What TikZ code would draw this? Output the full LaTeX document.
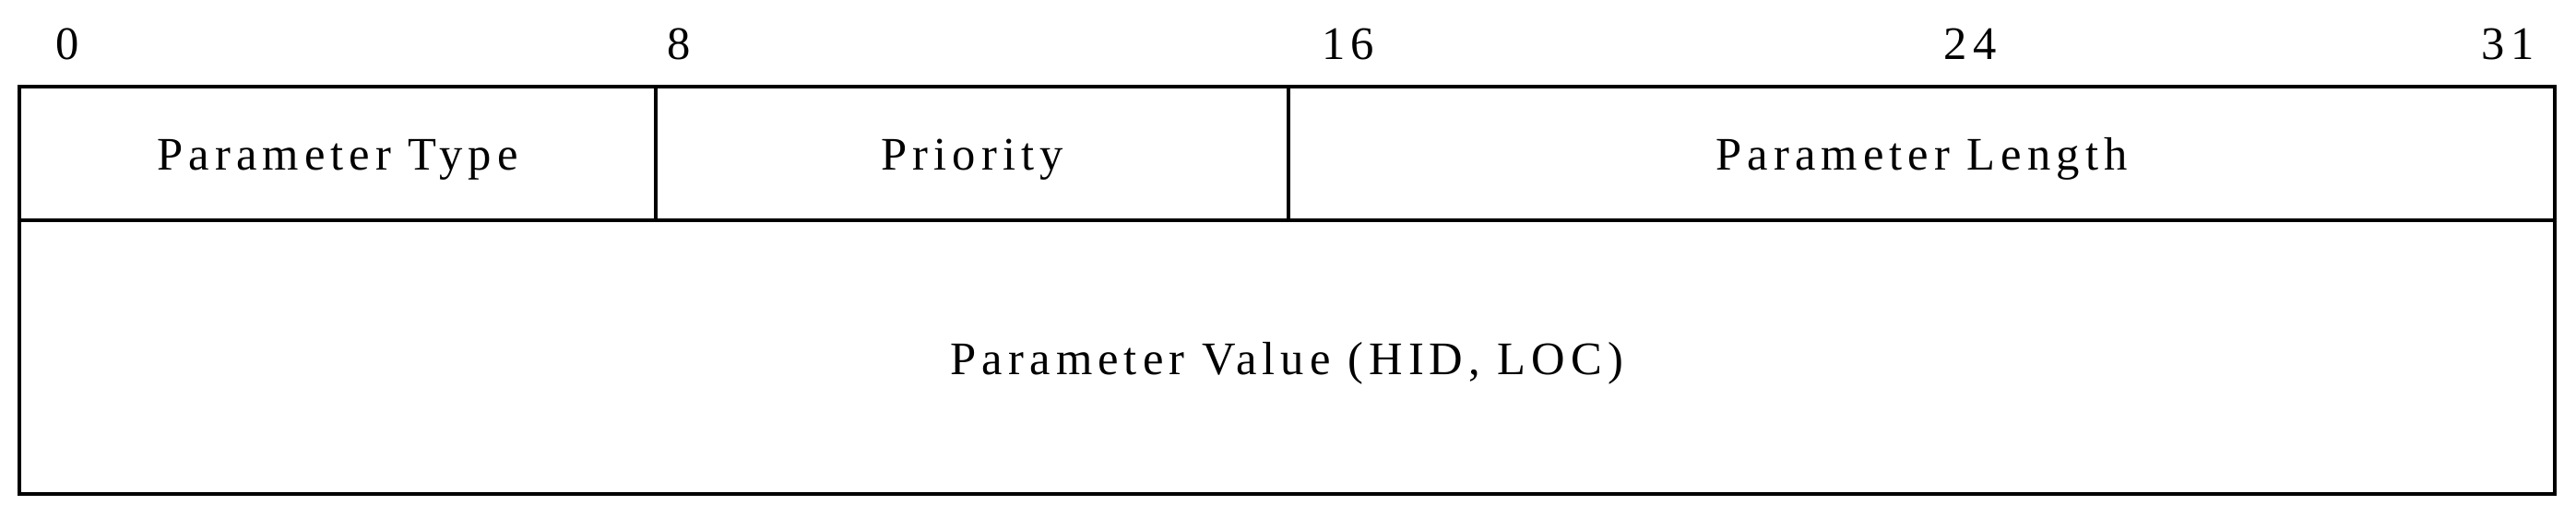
\documentclass[tikz,border=0pt]{standalone}
\usepackage{fontspec}
\setmainfont{Liberation Serif}[LetterSpace=12]
\usetikzlibrary{positioning}

\begin{document}
\begin{tikzpicture}[x=1cm, y=1cm, line width=1.3pt,
	field/.style={font=\fontsize{14.4}{17}\selectfont, inner sep=0pt, anchor=base},
	bitno/.style={font=\fontsize{14.4}{17}\selectfont, inner sep=0pt, anchor=base}]
	\useasboundingbox (0,0) rectangle (27.93,5.61);
	
	% Frame
	\draw (0.21,4.67) rectangle (27.70,0.25);
	\draw (0.21,3.22) -- (27.70,3.22);
	\draw (7.11,4.67) -- (7.11,3.22);
	\draw (13.97,4.67) -- (13.97,3.22);
	
	% Bit numbers
	\node[bitno] (b0) at (0.73,4.96) {0};
	\node[bitno] (b8) at (7.36,4.96) {8};
	\node[bitno] (b16) at (14.62,4.96) {16};
	\node[bitno] (b24) at (21.36,4.96) {24};
	\node[bitno] (b31) at (27.19,4.96) {31};
	
	% Fields
	\node[field] (ptype) at (3.66,3.76) {Parameter Type};
	\node[field] (prio) at (10.54,3.76) {Priority};
	\node[field] (plen) at (20.835,3.76) {Parameter Length};
	\node[field] (pval) at (13.955,1.54) {Parameter Value (HID, LOC)};
\end{tikzpicture}
\end{document}
